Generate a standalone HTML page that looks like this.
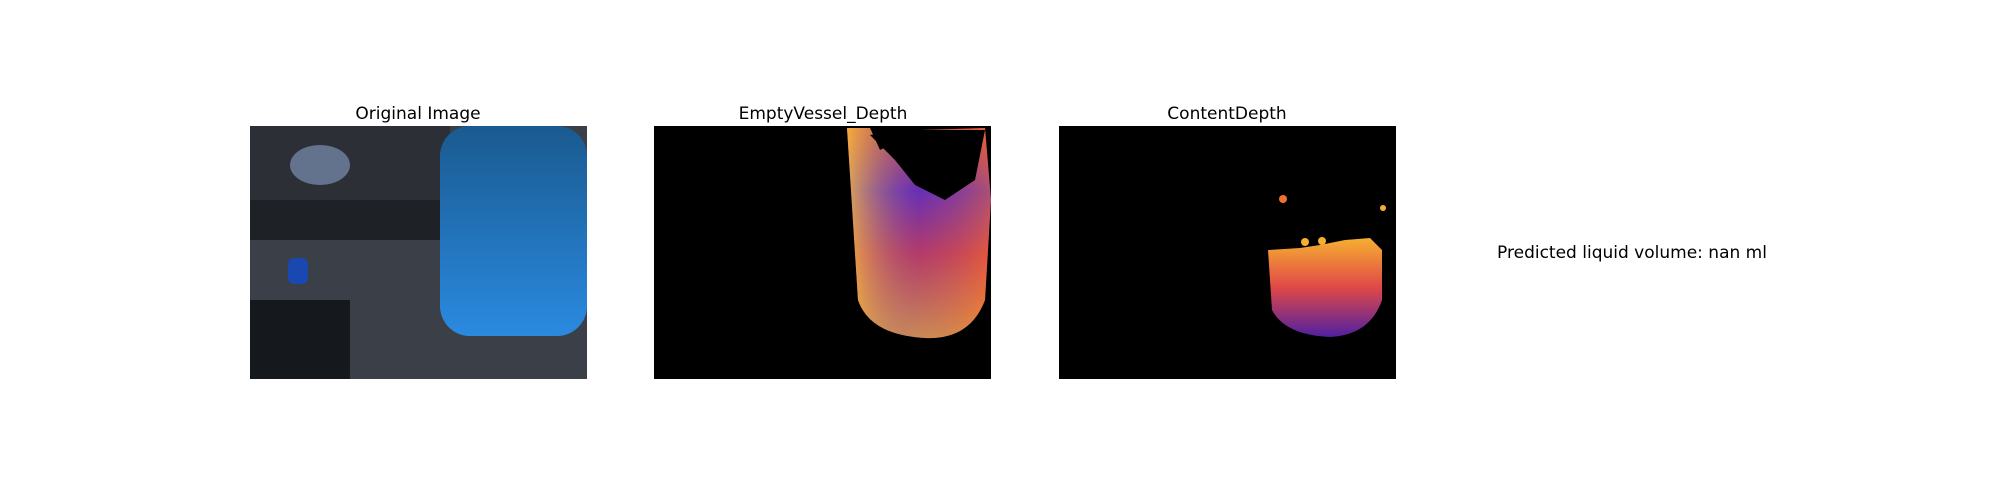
<!DOCTYPE html>
<html><head><meta charset="utf-8"><style>
html,body{margin:0;padding:0;background:#fff;width:2000px;height:500px;overflow:hidden}
text{font-family:"DejaVu Sans","Liberation Sans",sans-serif;fill:#000}
</style></head><body>
<svg width="2000" height="500" viewBox="0 0 2000 500">
<defs>
<linearGradient id="vessel" x1="0" y1="0" x2="0" y2="1">
<stop offset="0" stop-color="#f05a28"/><stop offset="0.3" stop-color="#6a2fb8"/><stop offset="0.6" stop-color="#d8404a"/><stop offset="1" stop-color="#f6b030"/></linearGradient>
<linearGradient id="vesselx" x1="0" y1="0" x2="1" y2="0">
<stop offset="0" stop-color="#f8c040" stop-opacity="0.8"/><stop offset="0.5" stop-color="#6030b0" stop-opacity="0.3"/><stop offset="1" stop-color="#f07030" stop-opacity="0.5"/></linearGradient>
<linearGradient id="content" x1="0" y1="0" x2="0" y2="1">
<stop offset="0" stop-color="#f6b030"/><stop offset="0.5" stop-color="#e04848"/><stop offset="1" stop-color="#5020a0"/></linearGradient>
<linearGradient id="water" x1="0" y1="0" x2="0" y2="1">
<stop offset="0" stop-color="#1a5a90"/><stop offset="1" stop-color="#2a8ae0"/></linearGradient>
</defs>
<g>
<text x="418" y="119" text-anchor="middle" font-size="17">Original Image</text>
<rect x="250" y="126" width="337" height="253" fill="#3a3f48"/>
<rect x="250" y="126" width="200" height="110" fill="#2c3036"/>
<rect x="250" y="200" width="200" height="40" fill="#1e2126"/>
<ellipse cx="320" cy="165" rx="30" ry="20" fill="#8aa0c8" opacity="0.6"/>
<rect x="250" y="300" width="100" height="79" fill="#15181c"/>
<rect x="288" y="258" width="20" height="26" rx="6" fill="#1848b0"/>
<rect x="440" y="126" width="147" height="210" rx="30" fill="url(#water)"/>
</g>
<g>
<text x="823" y="119" text-anchor="middle" font-size="17">EmptyVessel_Depth</text>
<rect x="654" y="126" width="337" height="253" fill="#000"/>
<path d="M847 128 L870 128 L880 150 L920 130 L985 128 L991 200 L985 300 Q970 340 925 338 Q870 335 858 300 Z" fill="url(#vessel)"/>
<path d="M847 128 L870 128 L880 150 L920 130 L985 128 L991 200 L985 300 Q970 340 925 338 Q870 335 858 300 Z" fill="url(#vesselx)"/>
<path d="M870 135 L900 130 L985 130 L975 180 L945 200 L915 185 L895 160 Z" fill="#000"/>
</g>
<g>
<text x="1227" y="119" text-anchor="middle" font-size="17">ContentDepth</text>
<rect x="1059" y="126" width="337" height="253" fill="#000"/>
<path d="M1268 250 L1300 248 L1320 245 L1345 240 L1370 238 L1382 250 L1382 300 Q1370 335 1330 337 Q1285 335 1272 310 Z" fill="url(#content)"/>
<circle cx="1283" cy="199" r="4" fill="#f07030"/>
<circle cx="1383" cy="208" r="3" fill="#f6b030"/>
<circle cx="1305" cy="242" r="4" fill="#f6b030"/>
<circle cx="1322" cy="241" r="4" fill="#f6b030"/>
</g>
<text x="1632" y="258" text-anchor="middle" font-size="17">Predicted liquid volume: nan ml</text>
</svg>
</body></html>
